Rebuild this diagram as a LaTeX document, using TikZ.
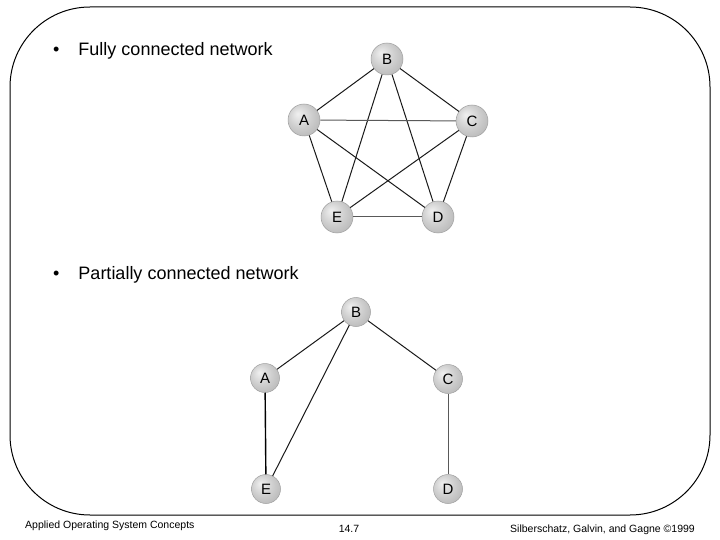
\documentclass[tikz,border=0pt]{standalone}
\usepackage{fontspec}
\setmainfont{Liberation Sans}
\pgfdeclareradialshading{sphere}{\pgfpoint{-10bp}{10bp}}{color(0bp)=(gray!12); color(18bp)=(gray!38); color(40bp)=(gray!65); color(50bp)=(gray!85)}
\tikzset{
  ball/.style={circle, minimum size=#1, inner sep=0pt, shading=sphere, draw=gray!75, line width=0.5pt, font=\fontsize{15}{15}\selectfont},
  edge/.style={line width=1pt, black!90},
  hedge/.style={line width=1pt, black!65},
  bullettext/.style={anchor=base west, font=\fontsize{18}{20}\selectfont, inner sep=0pt},
  foot/.style={anchor=base, font=\fontsize{10.5}{12}\selectfont, inner sep=0pt}
}
\begin{document}
\begin{tikzpicture}[x=1pt,y=-1pt]
\useasboundingbox (0,0) rectangle (720,540);
\draw[line width=1pt, rounded corners=80pt] (10,7) rectangle (710,515);

% bullets
\node[bullettext] (t1) at (53,56) {•\hspace{19pt}Fully connected network};
\node[bullettext] (t2) at (53,279) {•\hspace{19pt}Partially connected network};

% fully connected
\node[ball=32pt] (B) at (387,59) {B};
\node[ball=32pt] (A) at (304,120) {A};
\node[ball=32pt] (C) at (472,121) {C};
\node[ball=32pt] (E) at (337,217) {E};
\node[ball=32pt] (D) at (438,217) {D};
\draw[edge] (A) -- (B);
\draw[edge] (B) -- (C);
\draw[edge] (B) -- (E);
\draw[edge] (B) -- (D);
\draw[hedge] (A) -- (C);
\draw[edge] (A) -- (E);
\draw[edge] (A) -- (D);
\draw[edge] (C) -- (E);
\draw[edge] (C) -- (D);
\draw[hedge] (E) -- (D);

% partially connected
\node[ball=29pt] (pB) at (356,312) {B};
\node[ball=29pt] (pA) at (265,378) {A};
\node[ball=29pt] (pC) at (448,379) {C};
\node[ball=29pt] (pE) at (266,489) {E};
\node[ball=29pt] (pD) at (448,489) {D};
\draw[edge] (pB) -- (pA);
\draw[edge] (pB) -- (pC);
\draw[edge] (pB) -- (pE);
\draw[line width=1.4pt] (pA) -- (pE);
\draw[hedge] (pC) -- (pD);

% footer
\node[foot, anchor=base west] (f1) at (25,528) {Applied Operating System Concepts};
\node[foot] (f2) at (349,532) {14.7};
\node[foot, anchor=base east] (f3) at (695,532) {Silberschatz, Galvin, and Gagne \textcopyright1999};
\end{tikzpicture}
\end{document}
